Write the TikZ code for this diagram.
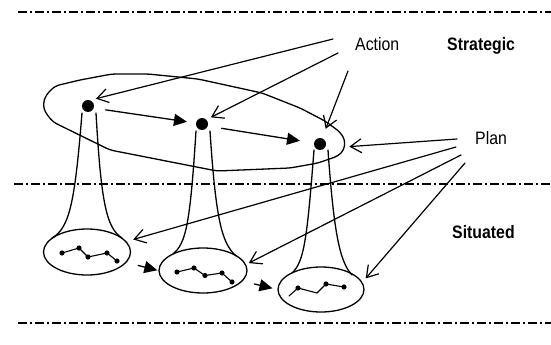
\documentclass[tikz,border=0pt]{standalone}
\usepackage{fontspec}
\setmainfont{Liberation Sans}
\usetikzlibrary{calc,arrows.meta,shapes.geometric}
\newcommand{\narrow}[1]{\scalebox{0.88}[1]{#1}}
\tikzset{
  base/.style={draw=black, line width=1.3pt, line cap=round, line join=round},
  sep/.style={draw=black, line width=2.2pt, dash pattern=on 9pt off 3pt on 2pt off 3pt},
  flow/.style={base, -{Triangle[length=13pt,width=12pt]}},
  ptr/.style={base, line width=1.2pt, -{Straight Barb[length=11pt,width=14pt]}},
  dot/.style={circle, fill=black, inner sep=0pt, minimum size=12pt},
  state/.style={ellipse, base, minimum width=88pt, minimum height=45pt, inner sep=0pt},
  zig/.style={base, line width=1.1pt, mark=*, mark size=2pt},
  lab/.style={font=\fontsize{18}{20}\selectfont, inner sep=0pt, anchor=base west},
  labb/.style={lab, font=\fontsize{18}{20}\selectfont\bfseries},
}

\begin{document}
\begin{tikzpicture}[x=1pt,y=-1pt]
  \useasboundingbox (0,0) rectangle (551,345);

  % level separators
  \draw[sep] (18,12) -- (551,12);
  \draw[sep] (14,184) -- (551,184);
  \draw[sep] (18,323) -- (551,323);

  % labels
  \node[lab]  (action)    at (355,51)  {\narrow{Action}};
  \node[labb] (strategic) at (447,51)  {\narrow{Strategic}};
  \node[lab]  (plan)      at (475,144) {\narrow{Plan}};
  \node[labb] (situated)  at (452,238) {\narrow{Situated}};

  % strategic actions
  \node[dot] (d1) at (88,106)  {};
  \node[dot] (d2) at (202,124) {};
  \node[dot] (d3) at (320,144) {};

  % the plan around them
  \draw[base, rounded corners=4pt] (43,104) -- (46,95) -- (55,86) -- (80,80)
    -- (112,74) -- (148,74) -- (198,79) -- (262,93) -- (300,108) -- (325,121)
    -- (340,132) -- (345,140) -- (344,150) -- (338,156) -- (318,163)
    -- (290,168) -- (217,171) -- (110,150) -- (53,122) -- (45,112) -- cycle;

  % situated expansions
  \node[state, minimum width=87pt, minimum height=46pt] (e1) at (87,252) {};
  \node[state] (e2) at (203,270.5) {};
  \node[state, minimum width=86pt] (e3) at (321,289.5) {};

  \draw[base] (82,113) .. controls (75,200) and (70,228) .. (52,238);
  \draw[base] (96,113) .. controls (101,200) and (106,228) .. (122,238);
  \draw[base] (196,131) .. controls (190,225) and (186,243) .. (173,254);
  \draw[base] (210,131) .. controls (216,222) and (222,243) .. (236,256);
  \draw[base] (314,150) .. controls (307,240) and (304,262) .. (292,273);
  \draw[base] (328,150) .. controls (334,235) and (340,262) .. (352,275);

  \draw[zig] plot coordinates {(62,253) (79,248) (88,257) (107,253) (117,261)};
  \draw[zig] plot coordinates {(177,272) (194,268) (205,275.5) (222,273) (232,282)};
  \draw[zig, mark indices={2,4,5}] plot coordinates {(289,296) (298,288) (317,293) (326,284) (344,287)};

  % sequence
  \draw[flow, shorten <=12pt, shorten >=9pt] (d1.-20) -- (d2);
  \draw[flow, shorten <=14pt, shorten >=14pt] (d2.-20) -- (d3);
  \draw[flow, shorten <=12pt, shorten >=1pt] (e1.-15) -- (e2.west);
  \draw[flow, shorten <=12pt, shorten >=5pt] (e2.-15) -- (e3.west);

  % pointers from the labels
  \coordinate (a1) at (333,39);
  \coordinate (a2) at (338,53);
  \coordinate (a3) at (348,71);
  \coordinate (p1) at (457,139);
  \coordinate (p2) at (456,147);
  \coordinate (p3) at (461,155);
  \coordinate (p4) at (465,163);

  \draw[ptr, shorten >=6pt]  (a1) -- (d1.70);
  \draw[ptr, shorten >=5pt]  (a2) -- (d2.45);
  \draw[ptr, shorten >=10pt] (a3) -- (d3.70);
  \draw[ptr, shorten >=25pt] (p1) -- (d3.-45);
  \draw[ptr, shorten >=7pt]  (p2) -- (e1.15);
  \draw[ptr, shorten >=3pt]  (p3) -- (e2.8);
  \draw[ptr, shorten >=5pt]  (p4) -- (e3.10);
\end{tikzpicture}
\end{document}
